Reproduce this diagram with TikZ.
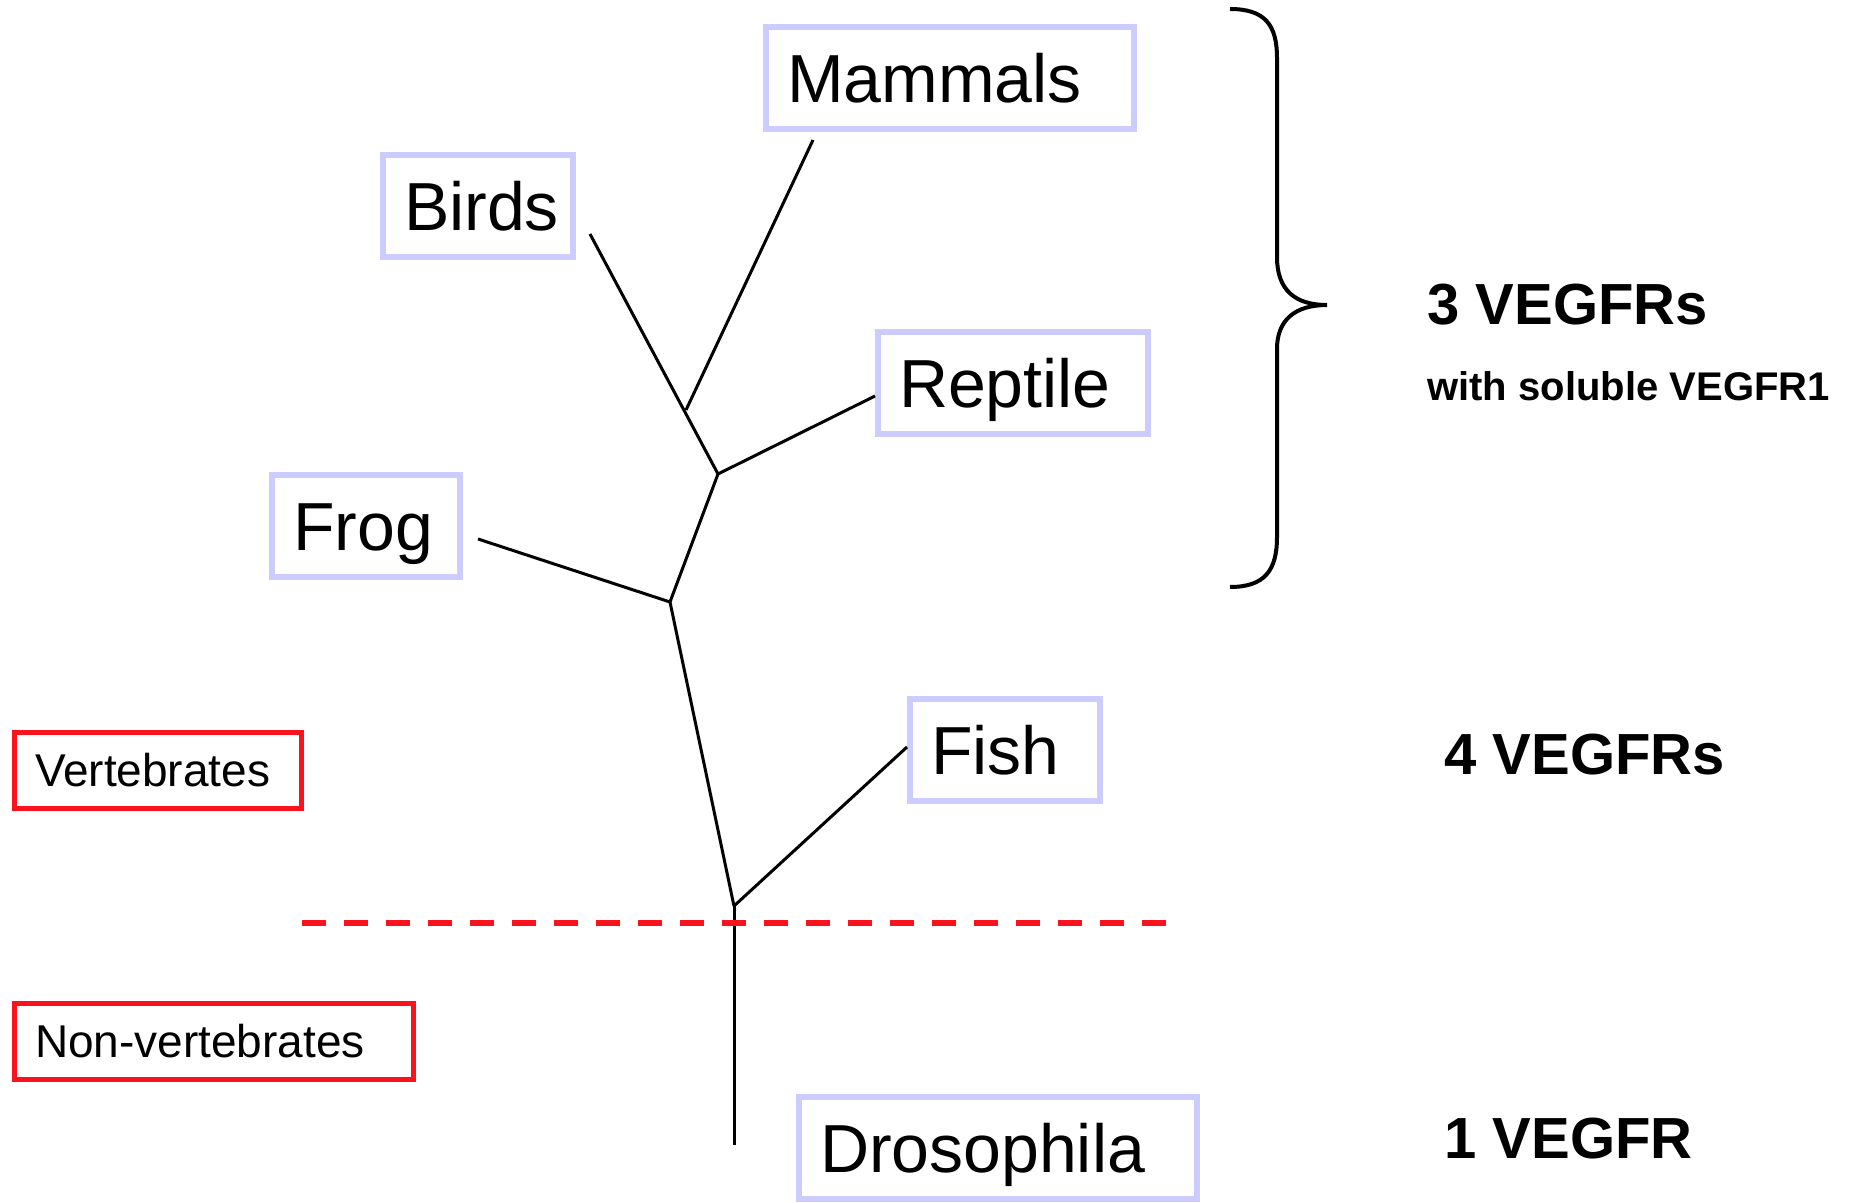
\documentclass[tikz,border=0pt]{standalone}
\usepackage{fontspec}
\setmainfont{Liberation Sans}
\definecolor{lav}{RGB}{204,204,255}
\definecolor{lred}{RGB}{250,18,28}
\begin{document}
\begin{tikzpicture}[x=0.5pt,y=-0.5pt,
  taxon/.style={draw=lav,line width=2.6pt,inner xsep=10.5pt,inner ysep=0pt,
    minimum height=51pt,align=left,text height=24.5pt,text depth=0pt,
    font=\fontsize{34}{40}\selectfont},
  group/.style={draw=lred,line width=2.5pt,inner xsep=10.5pt,inner ysep=0pt,
    minimum height=38pt,align=left,text height=16.5pt,text depth=0pt,
    font=\fontsize{23}{28}\selectfont},
  count/.style={anchor=base west,inner sep=0pt,font=\bfseries\fontsize{29}{34}\selectfont},
  branch/.style={line width=1.5pt,black}]
\useasboundingbox (0,0) rectangle (1854,1203);

% taxon boxes
\node[taxon,text width=163pt,minimum width=184pt] (mammals) at (950,78) {Mammals};
\node[taxon,text width=74pt,minimum width=95pt] (birds) at (478,206) {Birds};
\node[taxon,text width=114pt,minimum width=135pt] (reptile) at (1013,383) {Reptile};
\node[taxon,text width=73pt,minimum width=94pt] (frog) at (366,526) {Frog};
\node[taxon,text width=74pt,minimum width=95pt] (fish) at (1005,750) {Fish};
\node[taxon,text width=178pt,minimum width=199pt] (droso) at (998,1148) {Drosophila};

% group boxes
\node[group,text width=122.5pt,minimum width=143.5pt] (vert) at (157.5,770) {Vertebrates};
\node[group,text width=178.5pt,minimum width=199.5pt] (nonvert) at (213.5,1041) {Non-vertebrates};

% tree coordinates
\coordinate (mEnd) at (813,140);
\coordinate (bEnd) at (590,234);
\coordinate (rEnd) at (875,396);
\coordinate (fEnd) at (478,539);
\coordinate (fishEnd) at (907,747);
\coordinate (root) at (734,1145);
\coordinate (j1) at (686,410);
\coordinate (j2) at (718,474);
\coordinate (j3) at (670,602);
\coordinate (j4) at (734,906);

\draw[branch] (mEnd) -- (j1);
\draw[branch] (bEnd) -- (j2);
\draw[branch] (rEnd) -- (j2);
\draw[branch] (j2) -- (j3);
\draw[branch] (fEnd) -- (j3);
\draw[branch] (j3) -- (j4);
\draw[branch] (fishEnd) -- (j4);
\draw[branch] (j4) -- (root);

% dashed divider
\coordinate (dashL) at (302,923);
\coordinate (dashR) at (1167,923);
\draw[lred,line width=3pt,dash pattern=on 12pt off 9pt] (dashL) -- (dashR);

% brace
\draw[line width=2pt] (1230,9) .. controls (1265,9) and (1277,25) .. (1277,58)
  -- (1277,257) .. controls (1277,290) and (1295,305) .. (1327,305)
  .. controls (1295,305) and (1277,320) .. (1277,349)
  -- (1277,537) .. controls (1277,570) and (1265,587) .. (1230,587);

% counts
\node[count] (c3) at (1427,325) {3 VEGFRs};
\node[anchor=base west,inner sep=0pt,font=\bfseries\fontsize{20}{24}\selectfont] (sol) at (1427,401) {with soluble VEGFR1};
\node[count] (c4) at (1444,774) {4 VEGFRs};
\node[count] (c1) at (1444,1158) {1 VEGFR};
\end{tikzpicture}
\end{document}
